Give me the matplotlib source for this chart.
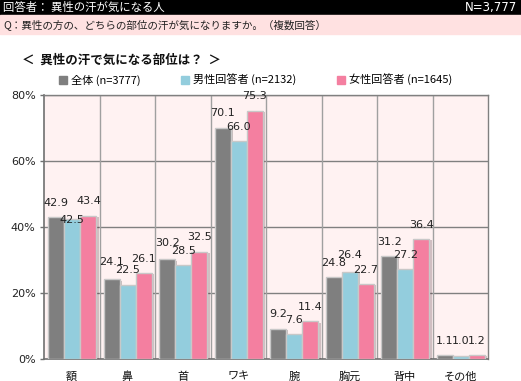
import matplotlib
matplotlib.use("Agg")
import matplotlib.pyplot as plt
import matplotlib.patheffects as pe
from matplotlib.patches import Rectangle
import numpy as np

plt.rcParams['font.family'] = ['Noto Sans CJK JP', 'DejaVu Sans']

categories = ['額', '鼻', '首', 'ワキ', '腕', '胸元', '背中', 'その他']
series_names = ['全体 (n=3777)', '男性回答者 (n=2132)', '女性回答者 (n=1645)']
total = [42.9, 24.1, 30.2, 70.1, 9.2, 24.8, 31.2, 1.1]
male = [42.5, 22.5, 28.5, 66.0, 7.6, 26.4, 27.2, 1.0]
female = [43.4, 26.1, 32.5, 75.3, 11.4, 22.7, 36.4, 1.2]
yticks = [0, 20, 40, 60, 80]
ytick_labels = ['0%', '20%', '40%', '60%', '80%']

colors = ['#7F7F7F', '#93CDDD', '#F47FA0']
W, H = 521, 381
fig = plt.figure(figsize=(W / 100, H / 100), dpi=100)

# header bars
fig.patches.append(Rectangle((0, 1 - 15 / H), 1, 15 / H, transform=fig.transFigure,
                             color='black', zorder=0))
fig.patches.append(Rectangle((0, 1 - 34 / H), 1, 19 / H, transform=fig.transFigure,
                             color='#FFE1E1', zorder=0))
fig.text(3 / W, 1 - 7.5 / H, '回答者： 異性の汗が気になる人', color='white',
         fontsize=8.2, va='center', ha='left')
fig.text(517 / W, 1 - 7.5 / H, 'N=3,777', color='white', fontsize=8.5,
         va='center', ha='right', family=['DejaVu Sans'])
fig.text(3 / W, 1 - 24.5 / H, 'Q：異性の方の、どちらの部位の汗が気になりますか。（複数回答）',
         color='#222222', fontsize=7.6, va='center', ha='left')
fig.text(22 / W, 1 - 60 / H, '＜  異性の汗で気になる部位は？  ＞', color='#111111',
         fontsize=9, fontweight='bold', va='center', ha='left')

ax = fig.add_axes([44 / W, 1 - 359 / H, (488 - 44) / W, (359 - 95) / H])
ax.set_facecolor('#FFF2F2')

x = np.arange(len(categories))
bw = 0.29
data = [total, male, female]
offsets = [-bw, 0, bw]
# label nudges (pixels, positive = down) to mimic the overlap avoidance of the original
nudges = {(1, 0): -3, (2, 0): -2, (5, 1): -3, (0, 1): 16}
for si, (vals, off, c) in enumerate(zip(data, offsets, colors)):
    ax.bar(x + off + 0.01, vals, width=bw, color=c, edgecolor='#C8C8C8',
           linewidth=1, zorder=3,
           path_effects=[pe.SimplePatchShadow(offset=(1.5, -1), alpha=0.25),
                         pe.Normal()])
    for ci, v in enumerate(vals):
        nudge = nudges.get((ci, si), 0)
        ax.annotate(f'{v:.1f}', (x[ci] + off + 0.01, v), xytext=(0, 10.3 - nudge * 0.72),
                    textcoords='offset points', ha='center', va='center',
                    fontsize=8, color='#222222', family=['DejaVu Sans'], zorder=5)

ax.set_xlim(-0.5, len(categories) - 0.5)
ax.set_ylim(0, 80)
ax.set_yticks(yticks)
ax.set_yticklabels(ytick_labels, fontsize=8, color='#222222', family=['DejaVu Sans'])
ax.set_xticks(x)
ax.set_xticklabels(categories, fontsize=8, color='#111111')
ax.tick_params(axis='x', length=0, pad=9)
ax.tick_params(axis='y', length=3, width=1, color='#707070', pad=3)
for yv in yticks[1:]:
    ax.axhline(yv, color='#808080', linewidth=1, zorder=1)
for xb in np.arange(0.5, len(categories) - 0.5, 1):
    ax.axvline(xb, color='#A0A0A0', linewidth=1, zorder=1)
for s in ['top', 'right']:
    ax.spines[s].set_color('#808080')
    ax.spines[s].set_linewidth(1)
for s in ['left', 'bottom']:
    ax.spines[s].set_color('#707070')
    ax.spines[s].set_linewidth(1.2)

handles = [Rectangle((0, 0), 1, 1, color=c) for c in colors]
fig.legend(handles, series_names, loc='center left', bbox_to_anchor=(59 / W, 1 - 80 / H),
           ncol=3, frameon=False, fontsize=8, handlelength=0.7, handleheight=0.7,
           handletextpad=0.35, columnspacing=3.7, borderaxespad=0, borderpad=0)

fig.savefig('out.png', dpi=100)
